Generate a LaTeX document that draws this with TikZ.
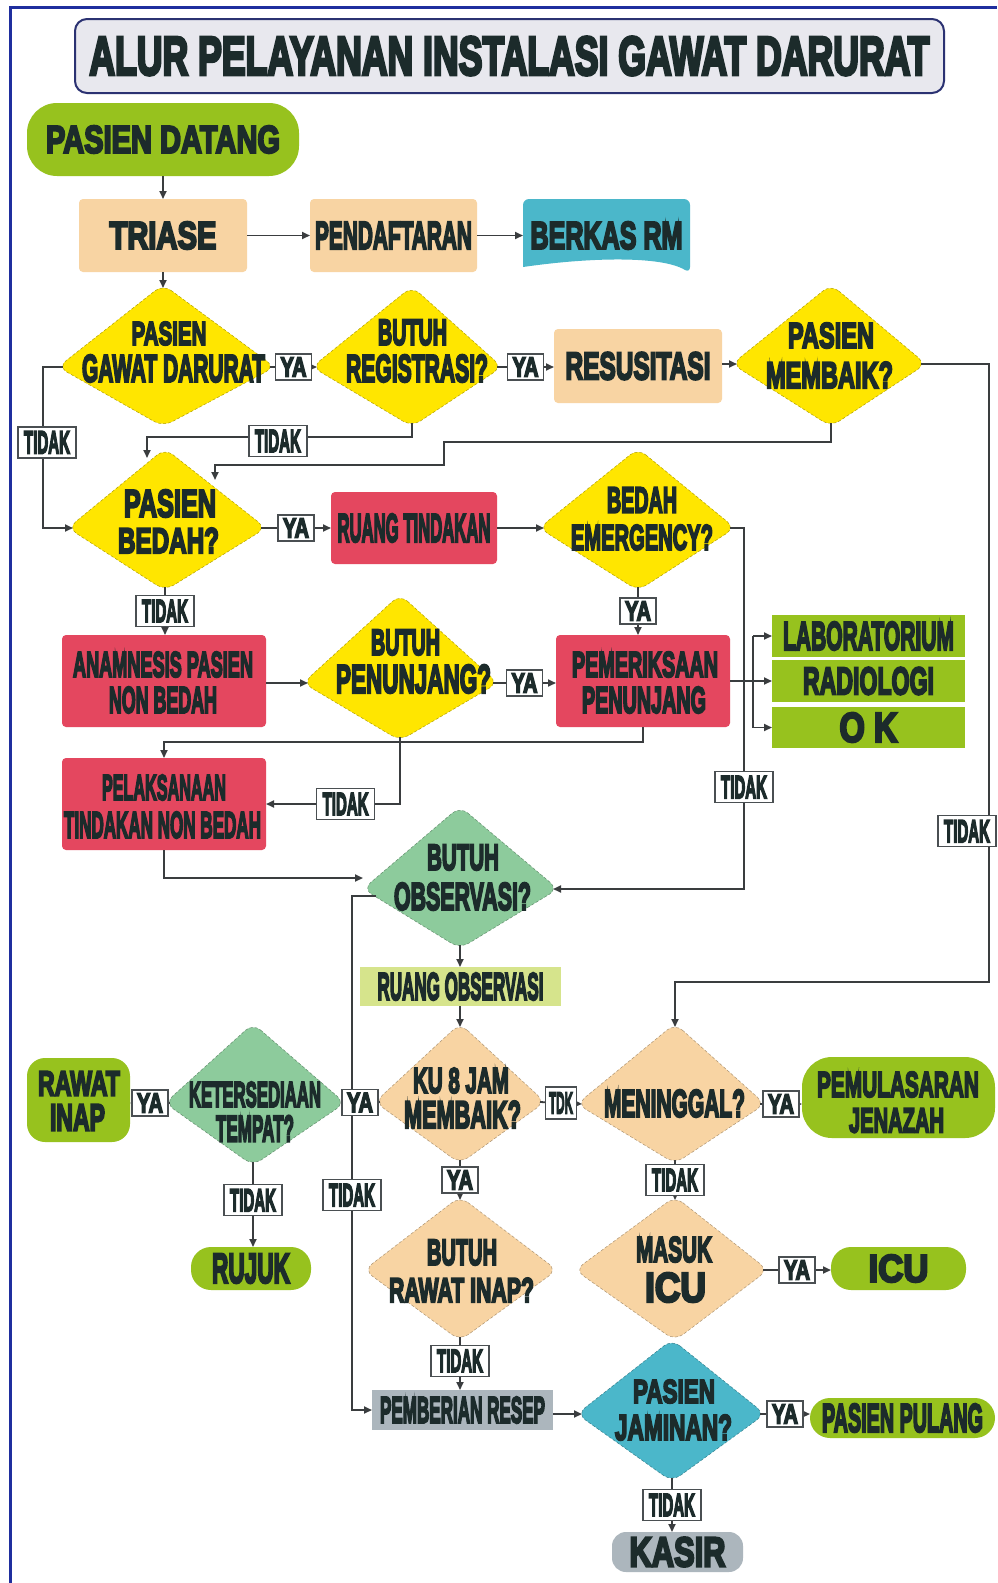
\documentclass[tikz,border=0pt]{standalone}
\usepackage{fontspec}
\usepackage{graphicx}
\newfontfamily\hv{Liberation Sans}[FakeBold=6]
\usetikzlibrary{arrows.meta}
\definecolor{yel}{HTML}{FFE600}
\definecolor{pch}{HTML}{F8D4A3}
\definecolor{redc}{HTML}{E4475F}
\definecolor{grn}{HTML}{97C21E}
\definecolor{sage}{HTML}{8DCB9C}
\definecolor{cyn}{HTML}{4BB7CA}
\definecolor{gry}{HTML}{ACB6BD}
\definecolor{rog}{HTML}{D6E48C}
\definecolor{tc}{HTML}{1C2B2B}
\definecolor{lc}{HTML}{3A3D3F}
\definecolor{labc}{HTML}{4A4F52}
\definecolor{framec}{HTML}{1F2E9E}
\definecolor{ttl}{HTML}{E8E8EE}
\definecolor{navy}{HTML}{2B3272}
\newcommand\fx[3]{\resizebox{#1pt}{#2pt}{#3}}
\newcommand\YA{\fx{26}{19}{YA}}
\newcommand\TD{\fx{46}{22}{TIDAK}}
\newcommand\TDK{\fx{24}{21}{TDK}}
% name, cx, top, mid, bottom, left, right, colour
\newcommand\dia[8]{%
  \coordinate (#1-t) at (#2,#3);
  \coordinate (#1-b) at (#2,#5);
  \coordinate (#1-l) at (#6,#4);
  \coordinate (#1-r) at (#7,#4);
  \path[fill=#8, draw=#8!70!black, densely dashed, line width=0.5pt, rounded corners=10pt]
    ([yshift=3.5pt]#1-t) -- ([xshift=5pt]#1-r) -- ([yshift=-3.5pt]#1-b) -- ([xshift=-5pt]#1-l) -- cycle;}
\begin{document}
\begin{tikzpicture}[x=1pt, y=-1pt,
  every node/.style={inner sep=0pt, outer sep=0pt, font=\hv\bfseries, text=tc},
  lab/.style={draw=labc, line width=1.3pt, fill=white, rectangle},
  ya/.style={lab, minimum width=36pt, minimum height=26pt},
  td/.style={lab, minimum width=58pt, minimum height=31pt},
  tdk/.style={lab, minimum width=31pt, minimum height=32pt},
  ar/.style={draw=lc, line width=1.8pt, -{Triangle[length=8pt,width=7pt]}},
  ln/.style={draw=lc, line width=1.8pt},
  rbox/.style={rectangle, rounded corners=4pt}]
\useasboundingbox (0,0) rectangle (997,1583);
\fill[white] (0,0) rectangle (997,1583);
\draw[framec, line width=3pt] (10,1583) -- (10,7) -- (997,7);

% title
\node[draw=navy, line width=2pt, fill=ttl, rounded corners=12pt, minimum width=869pt, minimum height=74pt] (title) at (509.5,56) {\fx{840}{38}{ALUR PELAYANAN INSTALASI GAWAT DARURAT}};

% boxes
\node[fill=grn, rounded corners=30pt, minimum width=272pt, minimum height=73pt] (pd) at (163,139.5) {\fx{234}{27}{PASIEN DATANG}};
\node[rbox, fill=pch, minimum width=168pt, minimum height=73pt] (tri) at (163,235.5) {\fx{107}{27}{TRIASE}};
\node[rbox, fill=pch, minimum width=167pt, minimum height=73pt] (pend) at (393.5,235.5) {\fx{157}{27}{PENDAFTARAN}};
\fill[cyn, rounded corners=6pt] (523,267) -- (523,199) -- (690,199) -- (690,273) [sharp corners] .. controls (662,256) and (592,257) .. (523,267) -- cycle;
\node[minimum width=167pt, minimum height=73pt] (brm) at (606.5,235.5) {\fx{152}{27}{BERKAS RM}};
\node[rbox, fill=pch, minimum width=168pt, minimum height=74pt] (res) at (638,366) {\fx{145}{27}{RESUSITASI}};
\node[rbox, fill=redc, minimum width=166pt, minimum height=72pt] (rt) at (414,528) {\fx{153}{28}{RUANG TINDAKAN}};
\node[rbox, fill=redc, minimum width=204pt, minimum height=92pt] (anam) at (164,681) {};
\node (anam1) at (163,664.5) {\fx{180}{25}{ANAMNESIS PASIEN}};
\node (anam2) at (163,700) {\fx{108}{26}{NON BEDAH}};
\node[rbox, fill=redc, minimum width=174pt, minimum height=92pt] (pp) at (643,681) {};
\node (pp1) at (645,664.5) {\fx{146}{25}{PEMERIKSAAN}};
\node (pp2) at (644,700) {\fx{124}{26}{PENUNJANG}};
\node[rectangle, fill=grn, minimum width=193pt, minimum height=42pt] (lab) at (868.5,636) {\fx{171}{28}{LABORATORIUM}};
\node[rectangle, fill=grn, minimum width=193pt, minimum height=42pt] (rad) at (868.5,681) {\fx{131}{27}{RADIOLOGI}};
\node[rectangle, fill=grn, minimum width=193pt, minimum height=41pt] (ok) at (868.5,727.5) {\fx{58}{29}{O K}};
\node[rbox, fill=redc, minimum width=204pt, minimum height=92pt] (ptnb) at (164,804) {};
\node (ptnb1) at (164,787.5) {\fx{124}{25}{PELAKSANAAN}};
\node (ptnb2) at (162.5,825) {\fx{197}{26}{TINDAKAN NON BEDAH}};
\node[rectangle, fill=rog, minimum width=201pt, minimum height=39pt] (ro) at (460.5,986.5) {\fx{166}{27}{RUANG OBSERVASI}};
\node[fill=grn, rounded corners=18pt, minimum width=103pt, minimum height=84pt] (ri) at (78.5,1100) {};
\node (ri1) at (79,1083.5) {\fx{82}{24}{RAWAT}};
\node (ri2) at (77.5,1117.5) {\fx{55}{26}{INAP}};
\node[fill=grn, rounded corners=30pt, minimum width=193pt, minimum height=81pt] (pem) at (898.5,1097.5) {};
\node (pem1) at (898,1084.5) {\fx{162}{25}{PEMULASARAN}};
\node (pem2) at (896.5,1120.5) {\fx{95}{24}{JENAZAH}};
\node[fill=grn, rounded corners=20pt, minimum width=120pt, minimum height=43pt] (rujuk) at (251,1268.5) {\fx{78}{29}{RUJUK}};
\node[fill=grn, rounded corners=20pt, minimum width=135pt, minimum height=43pt] (icu) at (898.5,1268.5) {\fx{60}{27}{ICU}};
\node[rectangle, fill=gry, minimum width=181pt, minimum height=40pt] (pr) at (462.5,1410) {\fx{165}{26}{PEMBERIAN RESEP}};
\node[fill=grn, rounded corners=20pt, minimum width=185pt, minimum height=40pt] (ppul) at (902.5,1418) {\fx{161}{28}{PASIEN PULANG}};
\node[fill=gry, rounded corners=14pt, minimum width=131pt, minimum height=40pt] (kasir) at (677.5,1552) {\fx{96}{29}{KASIR}};

% diamonds
\dia{pgd}{163}{288}{367}{423}{63}{270}{yel}
\dia{br}{412}{290}{367}{423}{317}{497}{yel}
\dia{pm}{831}{288}{364}{423}{737}{921}{yel}
\dia{pb}{165}{452}{528}{587}{73}{261}{yel}
\dia{be}{638}{452}{528}{587}{544}{730}{yel}
\dia{bp}{400}{598}{683}{737}{308}{493}{yel}
\dia{bo}{460}{810}{889}{945}{368}{553}{sage}
\dia{ku}{460}{1027}{1102}{1160}{380}{540}{pch}
\dia{kt}{253}{1027}{1103}{1162}{170}{340}{sage}
\dia{men}{675}{1027}{1104}{1160}{582}{760}{pch}
\dia{bri}{460}{1200}{1270}{1337}{369}{552}{pch}
\dia{mi}{675}{1200}{1270}{1337}{580}{763}{pch}
\dia{pj}{672}{1343}{1414}{1478}{582}{760}{cyn}

\node (pgd1) at (169,333.5) {\fx{75}{23}{PASIEN}};
\node (pgd2) at (173.5,368.5) {\fx{183}{27}{GAWAT DARURAT}};
\node (br1) at (412.5,332.5) {\fx{69}{25}{BUTUH}};
\node (br2) at (417,368.5) {\fx{142}{27}{REGISTRASI?}};
\node (pm1) at (831,335.5) {\fx{86}{25}{PASIEN}};
\node (pm2) at (829.5,375) {\fx{127}{26}{MEMBAIK?}};
\node (pb1) at (170,503.5) {\fx{92}{27}{PASIEN}};
\node (pb2) at (168.5,540.5) {\fx{101}{25}{BEDAH?}};
\node (be1) at (642,500) {\fx{70}{25}{BEDAH}};
\node (be2) at (642,537.5) {\fx{142}{25}{EMERGENCY?}};
\node (bp1) at (405.5,642.5) {\fx{69}{25}{BUTUH}};
\node (bp2) at (413.5,679) {\fx{155}{28}{PENUNJANG?}};
\node (bo1) at (463,857.5) {\fx{72}{25}{BUTUH}};
\node (bo2) at (462.5,896.5) {\fx{137}{27}{OBSERVASI?}};
\node (ku1) at (461,1080.5) {\fx{96}{25}{KU 8 JAM}};
\node (ku2) at (462.5,1114.5) {\fx{117}{27}{MEMBAIK?}};
\node (kt1) at (255,1094.5) {\fx{132}{25}{KETERSEDIAAN}};
\node (kt2) at (255,1128.5) {\fx{78}{26}{TEMPAT?}};
\node (men1) at (674.5,1103.5) {\fx{141}{27}{MENINGGAL?}};
\node (bri1) at (462,1252.5) {\fx{70}{25}{BUTUH}};
\node (bri2) at (461.5,1290) {\fx{145}{24}{RAWAT INAP?}};
\node (mi1) at (674,1249.5) {\fx{76}{25}{MASUK}};
\node (mi2) at (675.5,1287.5) {\fx{61}{29}{ICU}};
\node (pj1) at (674,1391.5) {\fx{82}{23}{PASIEN}};
\node (pj2) at (673.5,1427.5) {\fx{117}{25}{JAMINAN?}};

% connectors
\coordinate (pbin1) at (147,458);
\coordinate (pbin2) at (215,480);
\coordinate (boin) at (363,878);
\coordinate (bo-o) at (376,896);

\draw[ar] (pd) -- (tri);
\draw[ar] (tri) -- (pend);
\draw[ar] (pend) -- (brm);
\draw[ar] (tri) -- (pgd-t);
\draw[ar] (pgd-r) -- node[ya] (l1) {\YA} (br-l);
\draw[ar] (br-r) -- node[ya] (l2) {\YA} (br-r -| res.west);
\draw[ar] (res.east |- pm-l) -- (pm-l);
\draw[ar] (pm-r) -- ++(68,0) -- node[td, pos=0.756, xshift=-22pt] (l3) {\TD} ++(0,618) -| (men-t);
\draw[ar] (pgd-l) -- ++(-20,0) |- node[td, pos=0.234, xshift=4pt] (l4) {\TD} (pb-l);
\draw[ar] (br-b) -- ++(0,14) -| node[td, pos=0.253, yshift=-4pt] (l5) {\TD} (pbin1);
\draw[ar, line width=2.2pt] (pm-b) -- ++(0,19) -| ++(-387,23) -| (pbin2);
\draw[ar] (pb-r) -- node[ya] (l6) {\YA} (pb-r -| rt.west);
\draw[ar] (rt.east |- be-l) -- (be-l);
\draw[ar] (be-r) -- ++(14,0) |- node[td, pos=0.359] (l7) {\TD} (bo-r);
\draw[ar] (pb-b) -- node[td] (l8) {\TD} (pb-b |- anam.north);
\draw[ar] (be-b) -- node[ya] (l9) {\YA} (be-b |- pp.north);
\draw[ar] (anam.east |- bp-l) -- (bp-l);
\draw[ar] (bp-r) -- node[ya] (l10) {\YA} (bp-r -| pp.west);
\draw[ln] (pp.east |- rad) -- ++(23,0) coordinate (jn);
\draw[ln] (jn |- lab) -- (jn |- ok);
\draw[ar] (jn |- lab) -- (lab);
\draw[ar] (jn) -- (rad);
\draw[ar] (jn |- ok) -- (ok);
\draw[ar] (pp.south) -- ++(0,15) -| (ptnb.north);
\draw[ar] (bp-b) |- node[td, pos=0.703] (l11) {\TD} (ptnb);
\draw[ar] (ptnb.south) |- (boin);
\draw[ar] (bo-b) -- (bo-b |- ro.north);
\draw[ar] (ku-t |- ro.south) -- (ku-t);
\draw[ar] (bo-o) -- ++(-24,0) |- node[td, pos=0.291] (l12) {\TD} (pr);
\draw[ar] (ku-l) -- node[ya] (l13) {\YA} (kt-r);
\draw[ar] (kt-l) -- node[ya] (l14) {\YA} (kt-l -| ri.east);
\draw[ar] (kt-b) -- node[td, pos=0.45] (l15) {\TD} (kt-b |- rujuk.north);
\draw[ar] (ku-r) -- node[tdk] (l16) {\TDK} (men-l);
\draw[ar] (men-r) -- node[ya] (l17) {\YA} (men-r -| pem.west);
\draw[ar] (ku-b) -- node[ya] (l18) {\YA} (bri-t);
\draw[ar] (men-b) -- node[td] (l19) {\TD} (mi-t);
\draw[ar] (mi-r) -- node[ya] (l20) {\YA} (mi-r -| icu.west);
\draw[ar] (bri-b) -- node[td, pos=0.45] (l21) {\TD} (bri-b |- pr.north);
\draw[ar] (pr.east |- pj-l) -- (pj-l);
\draw[ar] (pj-r) -- node[ya] (l22) {\YA} (pj-r -| ppul.west);
\draw[ar] (pj-b) -- node[td] (l23) {\TD} (pj-b |- kasir.north);
\end{tikzpicture}
\end{document}
